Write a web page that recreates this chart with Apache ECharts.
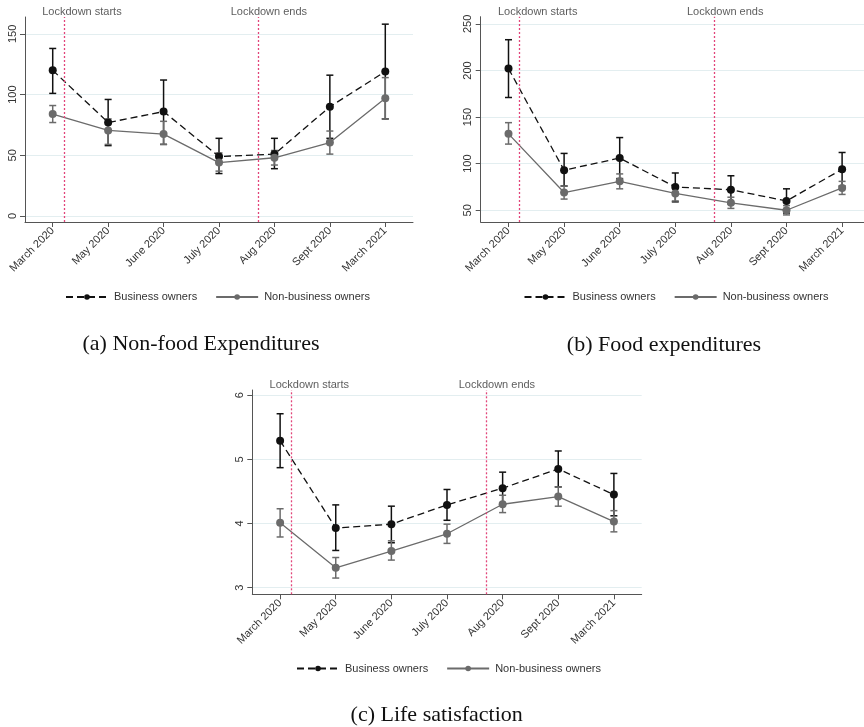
<!DOCTYPE html>
<html>
<head>
<meta charset="utf-8">
<script src="https://cdn.jsdelivr.net/npm/echarts@6/dist/echarts.min.js"></script>
<style>
html,body{margin:0;padding:0;background:#fff;}
#chart{width:864px;height:727px;}
</style>
</head>
<body>
<div id="chart"></div>
<script>
// ---------- data ----------
const categories = ['March 2020', 'May 2020', 'June 2020', 'July 2020', 'Aug 2020', 'Sept 2020', 'March 2021'];
const legendNames = ['Business owners', 'Non-business owners'];

// (a) Non-food expenditures
const nonfoodBiz     = [120, 77, 86, 49, 51, 90, 119];
const nonfoodBizLow  = [101, 58, 59, 35, 39, 64, 80];
const nonfoodBizHigh = [138, 96, 112, 64, 64, 116, 158];
const nonfoodNon     = [84, 70.5, 67.5, 44, 48, 60.5, 97];
const nonfoodNonLow  = [77, 59, 59, 37, 42, 51, 80];
const nonfoodNonHigh = [91, 80, 78, 52, 54, 70, 114];
const nonfoodTicks   = [0, 50, 100, 150];

// (b) Food expenditures
const foodBiz     = [202, 93, 106, 75, 72, 60, 94];
const foodBizLow  = [171, 76, 84, 59, 57, 47, 76];
const foodBizHigh = [233, 111, 128, 90, 87, 73, 112];
const foodNon     = [132, 69, 81, 68, 58, 50, 74];
const foodNonLow  = [121, 62, 73, 60, 52, 45, 67];
const foodNonHigh = [144, 76, 89, 76, 64, 55, 81];
const foodTicks   = [50, 100, 150, 200, 250];

// (c) Life satisfaction
const lifeBiz     = [5.29, 3.93, 3.99, 4.29, 4.55, 4.85, 4.45];
const lifeBizLow  = [4.87, 3.58, 3.70, 4.05, 4.30, 4.57, 4.12];
const lifeBizHigh = [5.71, 4.29, 4.27, 4.53, 4.80, 5.13, 4.78];
const lifeNon     = [4.01, 3.31, 3.57, 3.84, 4.30, 4.42, 4.03];
const lifeNonLow  = [3.79, 3.15, 3.43, 3.69, 4.17, 4.27, 3.87];
const lifeNonHigh = [4.23, 3.47, 3.73, 3.99, 4.44, 4.57, 4.20];
const lifeTicks   = [3, 4, 5, 6];

// events (positions on the category scale, 0 = March 2020)
const eventNames = ['Lockdown starts', 'Lockdown ends'];
const eventLinePos = [0.2, 3.7];
const eventLabelPos = [-0.19, 3.21];

const captions = ['(a) Non-food Expenditures', '(b) Food expenditures', '(c) Life satisfaction'];

// ---------- layout / style ----------
const panels = [
  { grid: {left: 25, top: 17, width: 388, height: 205}, yMin: -4.9, yMax: 163.9, ticks: nonfoodTicks,
    biz: nonfoodBiz, bizLo: nonfoodBizLow, bizHi: nonfoodBizHigh, non: nonfoodNon, nonLo: nonfoodNonLow, nonHi: nonfoodNonHigh,
    legend: {left: 65, top: 291.5}, caption: [201, 344] },
  { grid: {left: 480.7, top: 16.7, width: 389.2, height: 205.3}, yMin: 37.4, yMax: 257.7, ticks: foodTicks,
    biz: foodBiz, bizLo: foodBizLow, bizHi: foodBizHigh, non: foodNon, nonLo: foodNonLow, nonHi: foodNonHigh,
    legend: {left: 523.5, top: 291.5}, caption: [664, 345.5] },
  { grid: {left: 252.3, top: 390, width: 389.4, height: 204.3}, yMin: 2.897, yMax: 6.08, ticks: lifeTicks,
    biz: lifeBiz, bizLo: lifeBizLow, bizHi: lifeBizHigh, non: lifeNon, nonLo: lifeNonLow, nonHi: lifeNonHigh,
    legend: {left: 296, top: 663}, caption: [436.7, 715] }
];

const BIZ_COLOR = '#111111';
const NON_COLOR = '#6b6b6b';
const RED = '#e2457a';
const AXIS_COLOR = '#555555';
const TEXT_COLOR = '#333333';
const FONT = '"Liberation Sans", Arial, sans-serif';

function errorBars(color) {
  return function (params, api) {
    const x = api.value(0);
    const pLo = api.coord([x, api.value(1)]);
    const pHi = api.coord([x, api.value(2)]);
    const w = 3.5;
    const style = {stroke: color, lineWidth: 1.5};
    return {
      type: 'group',
      children: [
        {type: 'line', shape: {x1: pLo[0], y1: pLo[1], x2: pHi[0], y2: pHi[1]}, style: style},
        {type: 'line', shape: {x1: pLo[0] - w, y1: pLo[1], x2: pLo[0] + w, y2: pLo[1]}, style: style},
        {type: 'line', shape: {x1: pHi[0] - w, y1: pHi[1], x2: pHi[0] + w, y2: pHi[1]}, style: style}
      ]
    };
  };
}

const grid = [], xAxis = [], yAxis = [], series = [], legend = [], graphic = [];

panels.forEach(function (p, k) {
  grid.push(Object.assign({outerBoundsMode: 'none', containLabel: false}, p.grid));
  xAxis.push({
    type: 'category', gridIndex: k, data: categories, boundaryGap: true, position: 'bottom',
    axisLine: {show: true, onZero: false, lineStyle: {color: AXIS_COLOR, width: 1}},
    axisTick: {show: true, alignWithLabel: true, length: 5, lineStyle: {color: AXIS_COLOR}},
    axisLabel: {rotate: 45, fontSize: 11, color: TEXT_COLOR, fontFamily: FONT, margin: 7, interval: 0},
    splitLine: {show: false}
  });
  yAxis.push({
    type: 'value', gridIndex: k, min: p.yMin, max: p.yMax, position: 'left',
    axisLine: {show: true, onZero: false, lineStyle: {color: AXIS_COLOR, width: 1}},
    axisTick: {show: true, length: 5, lineStyle: {color: AXIS_COLOR}, customValues: p.ticks},
    axisLabel: {rotate: 90, fontSize: 11, color: TEXT_COLOR, fontFamily: FONT, margin: 7, customValues: p.ticks},
    splitLine: {show: true, lineStyle: {color: '#e3eef0', width: 1}}
  });
});
// hidden value x axes for the event lines/labels
panels.forEach(function (p, k) {
  xAxis.push({type: 'value', gridIndex: k, min: -0.5, max: 6.5, show: false, position: 'top',
              axisLine: {onZero: false}, splitLine: {show: false}});
});

panels.forEach(function (p, k) {
  // event lines and labels
  series.push({
    type: 'scatter', name: 'events' + k, xAxisIndex: panels.length + k, yAxisIndex: k,
    symbolSize: 0, clip: false, silent: true, z: 1,
    data: eventLabelPos.map(function (x, i) { return {value: [x, p.yMax], name: eventNames[i]}; }),
    label: {show: true, position: 'right', distance: 0, offset: [0, -5], formatter: '{b}',
            fontSize: 11, color: TEXT_COLOR, fontFamily: FONT},
    markLine: {
      silent: true, symbol: ['none', 'none'], label: {show: false},
      lineStyle: {color: RED, type: [2, 2], width: 1.3},
      data: eventLinePos.map(function (x) { return {xAxis: x}; })
    }
  });
  // error bars
  series.push({
    type: 'custom', name: 'bizErr' + k, xAxisIndex: k, yAxisIndex: k, z: 2,
    renderItem: errorBars(BIZ_COLOR), encode: {x: 0, y: [1, 2]},
    data: p.bizLo.map(function (lo, i) { return [i, lo, p.bizHi[i]]; })
  });
  series.push({
    type: 'custom', name: 'nonErr' + k, xAxisIndex: k, yAxisIndex: k, z: 2,
    renderItem: errorBars(NON_COLOR), encode: {x: 0, y: [1, 2]},
    data: p.nonLo.map(function (lo, i) { return [i, lo, p.nonHi[i]]; })
  });
  // point lines
  series.push({
    type: 'line', name: legendNames[0], xAxisIndex: k, yAxisIndex: k, z: 3,
    data: p.biz, symbol: 'circle', symbolSize: 8, showSymbol: true,
    itemStyle: {color: BIZ_COLOR},
    lineStyle: {color: BIZ_COLOR, width: 1.3, type: [7, 4]}
  });
  series.push({
    type: 'line', name: legendNames[1], xAxisIndex: k, yAxisIndex: k, z: 3,
    data: p.non, symbol: 'circle', symbolSize: 8, showSymbol: true,
    itemStyle: {color: NON_COLOR},
    lineStyle: {color: NON_COLOR, width: 1.3, type: 'solid'}
  });
  legend.push({
    data: legendNames, left: p.legend.left, top: p.legend.top, orient: 'horizontal', padding: 0,
    itemWidth: 42, itemHeight: 7, itemGap: 18, selectedMode: false,
    textStyle: {fontSize: 11, color: TEXT_COLOR, fontFamily: FONT, padding: [0, 0, 0, 1]}
  });
  graphic.push({
    type: 'text', x: p.caption[0], y: p.caption[1],
    style: {text: captions[k], font: '22px "Liberation Serif", "Times New Roman", serif',
            fill: '#111', textAlign: 'center', textVerticalAlign: 'middle'}
  });
});

const chart = echarts.init(document.getElementById('chart'), null, {renderer: 'canvas'});
chart.setOption({
  animation: false,
  backgroundColor: '#ffffff',
  grid: grid, xAxis: xAxis, yAxis: yAxis, series: series, legend: legend, graphic: graphic
});
</script>
</body>
</html>
